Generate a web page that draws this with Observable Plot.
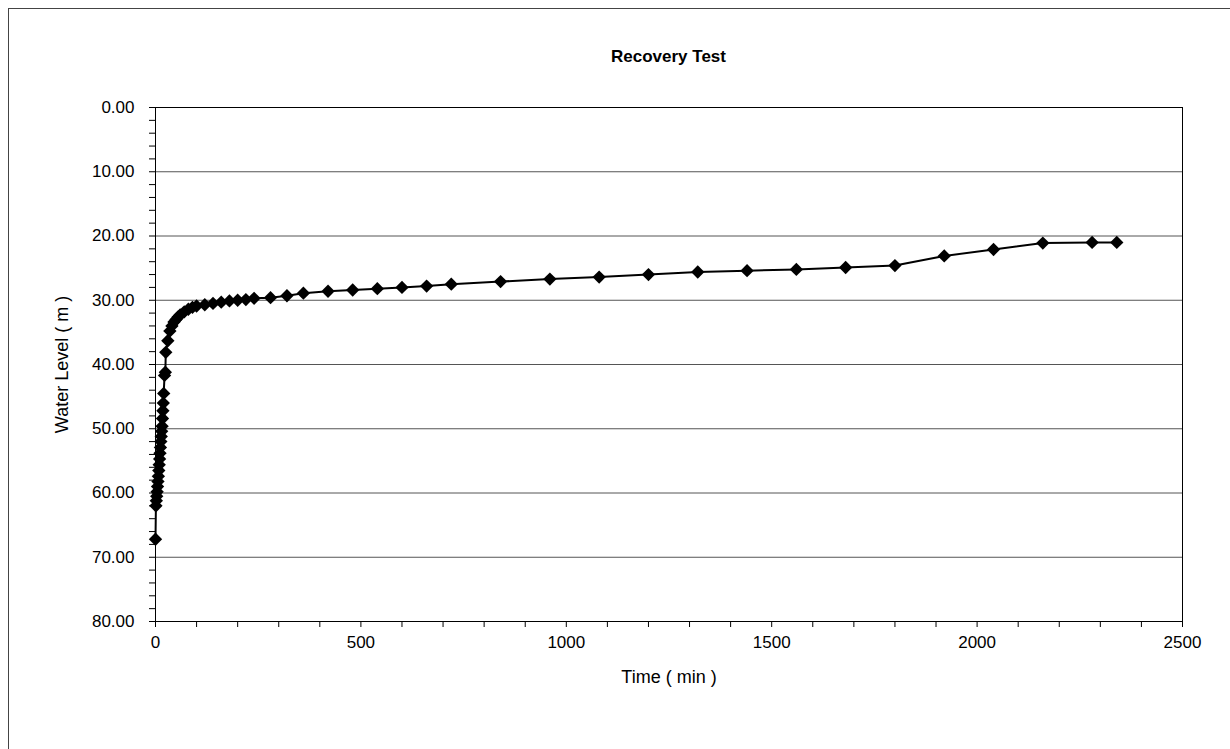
<!DOCTYPE html>
<html>
<head>
<meta charset="utf-8">
<script src="https://cdn.jsdelivr.net/npm/d3@7"></script>
<script src="https://cdn.jsdelivr.net/npm/@observablehq/plot@0.6"></script>
<style>
  html, body { margin: 0; padding: 0; background: white; }
  #fig { position: relative; width: 1230px; height: 749px; overflow: hidden; font-family: "Liberation Sans", Arial, sans-serif; }
  #border { position: absolute; left: 8px; top: 8px; width: 1230px; height: 760px; border-top: 1px solid #444; border-left: 1px solid #444; box-sizing: border-box; pointer-events: none; }
  #title { height: 80px; box-sizing: border-box; padding: 47px 48px 0 155px; text-align: center; font-weight: bold; font-size: 17px; line-height: 20px; color: black; }
  g[aria-label="y-axis label"] text, g[aria-label="x-axis label"] text { font-size: 18px; }
</style>
</head>
<body>
<div id="fig">
  <div id="title">Recovery Test</div>
  <div id="chart"></div>
  <div id="border"></div>
</div>
<script>
// Elapsed time since pump stop (min)
const times = [0, 1, 2, 3, 4, 5, 6, 7, 8, 9, 10, 11, 12, 13, 14, 15, 16, 17, 18, 19, 20, 22, 24, 25, 30, 35, 40, 45, 50, 55, 60, 70, 80, 90, 100, 120, 140, 160, 180, 200, 220, 240, 280, 320, 360, 420, 480, 540, 600, 660, 720, 840, 960, 1080, 1200, 1320, 1440, 1560, 1680, 1800, 1920, 2040, 2160, 2280, 2340];
// Water level (m below datum)
const levels = [67.2, 62.0, 61.2, 60.5, 59.8, 59.0, 58.2, 57.4, 56.5, 55.6, 54.7, 53.8, 52.9, 52.0, 51.2, 50.4, 49.6, 48.4, 47.2, 46.0, 44.5, 41.7, 41.2, 38.1, 36.3, 34.8, 34.0, 33.4, 33.0, 32.6, 32.3, 31.8, 31.4, 31.1, 30.9, 30.7, 30.5, 30.3, 30.1, 30.0, 29.9, 29.7, 29.6, 29.3, 28.9, 28.6, 28.4, 28.2, 28.0, 27.8, 27.5, 27.1, 26.7, 26.4, 26.0, 25.6, 25.4, 25.2, 24.9, 24.6, 23.1, 22.1, 21.1, 21.0, 21.0];

const yTicks = [0, 10, 20, 30, 40, 50, 60, 70, 80];
const yMinorTicks = d3.range(0, 81, 2);
const gridLevels = [10, 20, 30, 40, 50, 60, 70];
const xTicks = [0, 500, 1000, 1500, 2000, 2500];
const xMinorTicks = d3.range(0, 2501, 100);

const data = times.map((t, i) => ({ t, level: levels[i] }));

const chart = Plot.plot({
  width: 1230,
  height: 669,
  marginLeft: 155,
  marginRight: 48,
  marginTop: 27,
  marginBottom: 128,
  style: { fontFamily: "'Liberation Sans', Arial, sans-serif", fontSize: "17px", color: "black", background: "white" },
  x: { domain: [0, 2500] },
  y: { domain: [0, 80], reverse: true },
  marks: [
    Plot.gridY(gridLevels, { stroke: "#555", strokeOpacity: 1, strokeWidth: 1 }),
    Plot.frame({ stroke: "black", strokeWidth: 1 }),
    Plot.axisY(yMinorTicks, {
      tickSize: 6, tickPadding: 15,
      tickFormat: d => (yTicks.includes(d) ? d3.format(".2f")(d) : ""),
      label: "Water Level ( m )", labelAnchor: "center", labelOffset: 100, labelArrow: "none"
    }),
    Plot.axisX(xMinorTicks, {
      tickSize: 6, tickPadding: 8,
      tickFormat: d => (xTicks.includes(d) ? String(d) : ""),
      label: "Time ( min )", labelAnchor: "center", labelOffset: 61, labelArrow: "none"
    }),
    Plot.line(data, { x: "t", y: "level", stroke: "black", strokeWidth: 2 }),
    Plot.dot(data, { x: "t", y: "level", symbol: "diamond2", r: 6, fill: "black", stroke: "none" })
  ]
});
document.getElementById("chart").appendChild(chart);
</script>
</body>
</html>
